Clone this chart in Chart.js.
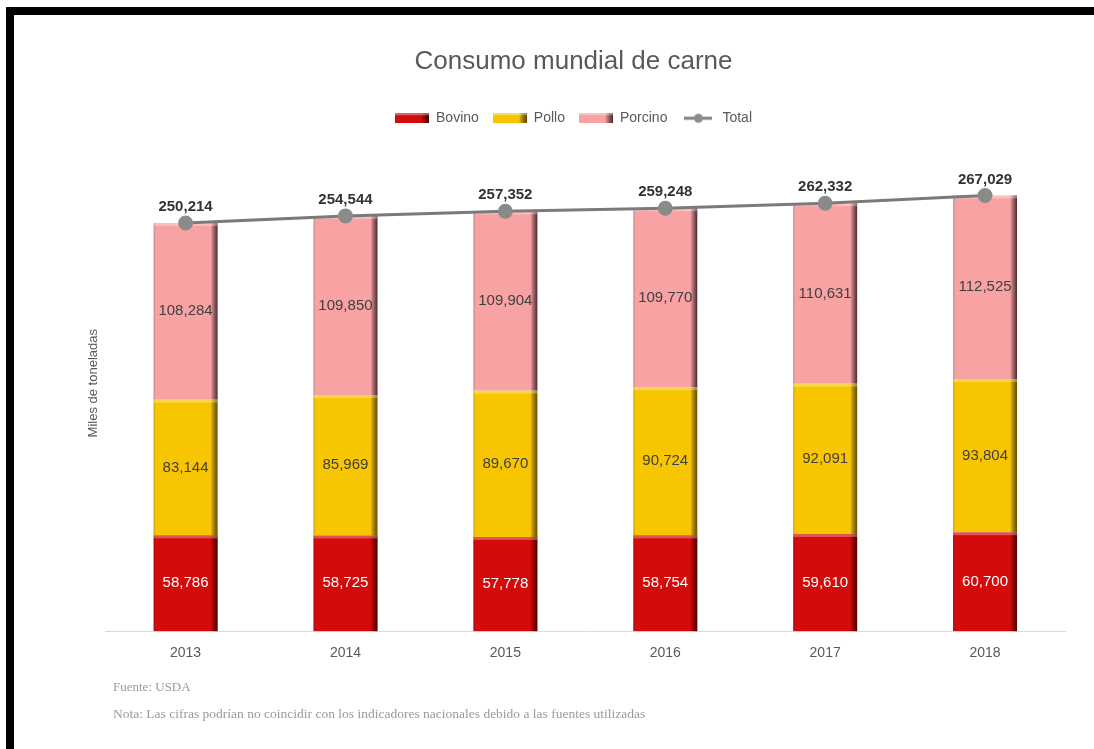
<!DOCTYPE html>
<html>
<head>
<meta charset="utf-8">
<script src="https://cdn.jsdelivr.net/npm/chart.js@4"></script>
<style>
  html, body { margin: 0; padding: 0; background: #fff; }
  #wrap { position: relative; width: 1094px; height: 749px; overflow: hidden; }
  #frame {
    position: absolute; left: 6px; top: 7px; right: 0; bottom: 0;
    border-top: 8px solid #000; border-left: 8px solid #000;
    pointer-events: none;
  }
  canvas { position: absolute; left: 0; top: 0; }
  .nota {
    position: absolute; left: 113px;
    font-family: 'Liberation Serif', 'DejaVu Serif', serif;
    color: #9a9a9a; white-space: nowrap;
  }
</style>
</head>
<body>
<div id="wrap">
  <canvas id="carneChart" width="1094" height="749"></canvas>
  <div id="frame"></div>
  <div class="nota" style="top:679px;font-size:13px;">Fuente: USDA</div>
  <div class="nota" style="top:706px;font-size:13.5px;">Nota: Las cifras podrían no coincidir con los indicadores nacionales debido a las fuentes utilizadas</div>
</div>
<script>
// Consumo por año (miles de toneladas)
const years   = ['2013', '2014', '2015', '2016', '2017', '2018'];
const bovino  = [58786, 58725, 57778, 58754, 59610, 60700];
const pollo   = [83144, 85969, 89670, 90724, 92091, 93804];
const porcino = [108284, 109850, 109904, 109770, 110631, 112525];
const total   = [250214, 254544, 257352, 259248, 262332, 267029];

const fmt = v => v.toLocaleString('en-US');

Chart.defaults.font.family = "'Liberation Sans', Arial, sans-serif";
Chart.defaults.color = '#595959';

// iconos de la leyenda: barra con borde oscuro a la derecha, y línea con punto
function boxIcon(color, dark) {
  const c = document.createElement('canvas');
  c.width = 34; c.height = 10;
  const g = c.getContext('2d');
  g.fillStyle = color;
  g.fillRect(0, 0, 34, 10);
  const grad = g.createLinearGradient(26, 0, 34, 0);
  grad.addColorStop(0, 'rgba(0,0,0,0)');
  grad.addColorStop(1, dark);
  g.fillStyle = grad;
  g.fillRect(26, 0, 8, 10);
  g.fillStyle = 'rgba(255,255,255,0.35)';
  g.fillRect(0, 0, 34, 2);
  return c;
}
function lineIcon() {
  const c = document.createElement('canvas');
  c.width = 28; c.height = 12;
  const g = c.getContext('2d');
  g.strokeStyle = '#7f7f7f'; g.lineWidth = 3;
  g.beginPath(); g.moveTo(0, 6); g.lineTo(28, 6); g.stroke();
  g.fillStyle = '#8c8c8c';
  g.beginPath(); g.arc(14, 6, 4.5, 0, Math.PI * 2); g.fill();
  return c;
}
const icons = [
  boxIcon('#d40b0b', 'rgba(60,0,0,0.9)'),
  boxIcon('#f8c600', 'rgba(90,60,0,0.9)'),
  boxIcon('#f8a2a4', 'rgba(60,20,30,0.9)'),
  lineIcon()
];

// sombreado tipo 3D sobre las barras + etiquetas de cada segmento
const barLook = {
  id: 'barLook',
  afterDatasetDraw(chart, args) {
    const ds = chart.data.datasets[args.index];
    if (ds.type === 'line') return;
    const ctx = chart.ctx;
    ctx.save();
    args.meta.data.forEach((bar, i) => {
      const p = bar.getProps(['x', 'y', 'base', 'width'], true);
      const left = p.x - p.width / 2, right = p.x + p.width / 2;
      const top = Math.min(p.y, p.base), bottom = Math.max(p.y, p.base);
      // etiqueta
      ctx.fillStyle = ds.labelColor;
      ctx.font = "15px 'Liberation Sans', Arial, sans-serif";
      ctx.textAlign = 'center';
      ctx.textBaseline = 'middle';
      ctx.fillText(fmt(ds.data[i]), p.x, (top + bottom) / 2);
      // borde derecho oscuro
      const grad = ctx.createLinearGradient(right - 7, 0, right, 0);
      grad.addColorStop(0, 'rgba(0,0,0,0)');
      grad.addColorStop(1, ds.edgeColor);
      ctx.fillStyle = grad;
      ctx.fillRect(right - 7, top, 7, bottom - top);
      // borde izquierdo suave
      ctx.fillStyle = 'rgba(0,0,0,0.12)';
      ctx.fillRect(left, top, 1.5, bottom - top);
      // brillo superior
      ctx.fillStyle = 'rgba(255,255,255,0.3)';
      ctx.fillRect(left, top, p.width, 3);
    });
    ctx.restore();
  },
  afterDatasetsDraw(chart) {
    const idx = chart.data.datasets.findIndex(d => d.type === 'line');
    const meta = chart.getDatasetMeta(idx);
    const ctx = chart.ctx;
    ctx.save();
    ctx.fillStyle = '#333';
    ctx.font = "bold 15px 'Liberation Sans', Arial, sans-serif";
    ctx.textAlign = 'center';
    ctx.textBaseline = 'middle';
    meta.data.forEach((pt, i) => {
      ctx.fillText(fmt(total[i]), pt.x, pt.y - 16);
    });
    ctx.restore();
  }
};

new Chart(document.getElementById('carneChart'), {
  data: {
    labels: years,
    datasets: [
      {
        type: 'bar', label: 'Bovino', data: bovino, stack: 'carne', order: 1,
        backgroundColor: '#d40b0b', edgeColor: 'rgba(70,0,0,0.85)', labelColor: '#ffffff'
      },
      {
        type: 'bar', label: 'Pollo', data: pollo, stack: 'carne', order: 1,
        backgroundColor: '#f8c600', edgeColor: 'rgba(90,60,0,0.85)', labelColor: '#404040'
      },
      {
        type: 'bar', label: 'Porcino', data: porcino, stack: 'carne', order: 1,
        backgroundColor: '#f8a2a4', edgeColor: 'rgba(60,20,30,0.85)', labelColor: '#404040'
      },
      {
        type: 'line', label: 'Total', data: total, stack: 'total', order: 0,
        borderColor: '#7a7a7a', borderWidth: 3,
        pointRadius: 6, pointBackgroundColor: '#8a8a8a', pointBorderColor: '#8a8a8a',
        tension: 0
      }
    ]
  },
  options: {
    responsive: false,
    animation: false,
    layout: { padding: { left: 82, right: 29, top: 0, bottom: 73 } },
    datasets: {
      bar: { categoryPercentage: 1, barPercentage: 0.4 }
    },
    plugins: {
      tooltip: { enabled: false },
      title: {
        display: true,
        text: 'Consumo mundial de carne',
        color: '#595959',
        font: { size: 26, weight: 'normal' },
        padding: { top: 46, bottom: 20 }
      },
      legend: {
        position: 'top',
        labels: {
          usePointStyle: true,
          pointStyleWidth: 34,
          boxHeight: 10,
          padding: 14,
          color: '#595959',
          font: { size: 14 },
          generateLabels: chart => chart.data.datasets.map((d, i) => ({
            text: d.label,
            pointStyle: icons[i],
            fillStyle: 'transparent',
            strokeStyle: 'transparent',
            lineWidth: 0,
            datasetIndex: i,
            hidden: false,
            fontColor: '#595959'
          }))
        }
      }
    },
    scales: {
      x: {
        stacked: true,
        grid: { display: false, drawTicks: false },
        border: { display: true, color: '#d9d9d9', width: 1 },
        ticks: { color: '#595959', font: { size: 14 }, padding: 14 }
      },
      y: {
        stacked: true,
        min: 0,
        max: 304000,
        grid: { display: false, drawTicks: false },
        border: { display: false },
        ticks: { display: false },
        title: {
          display: true,
          text: 'Miles de toneladas',
          color: '#595959',
          font: { size: 13 },
          padding: 4
        }
      }
    }
  },
  plugins: [barLook]
});
</script>
</body>
</html>
